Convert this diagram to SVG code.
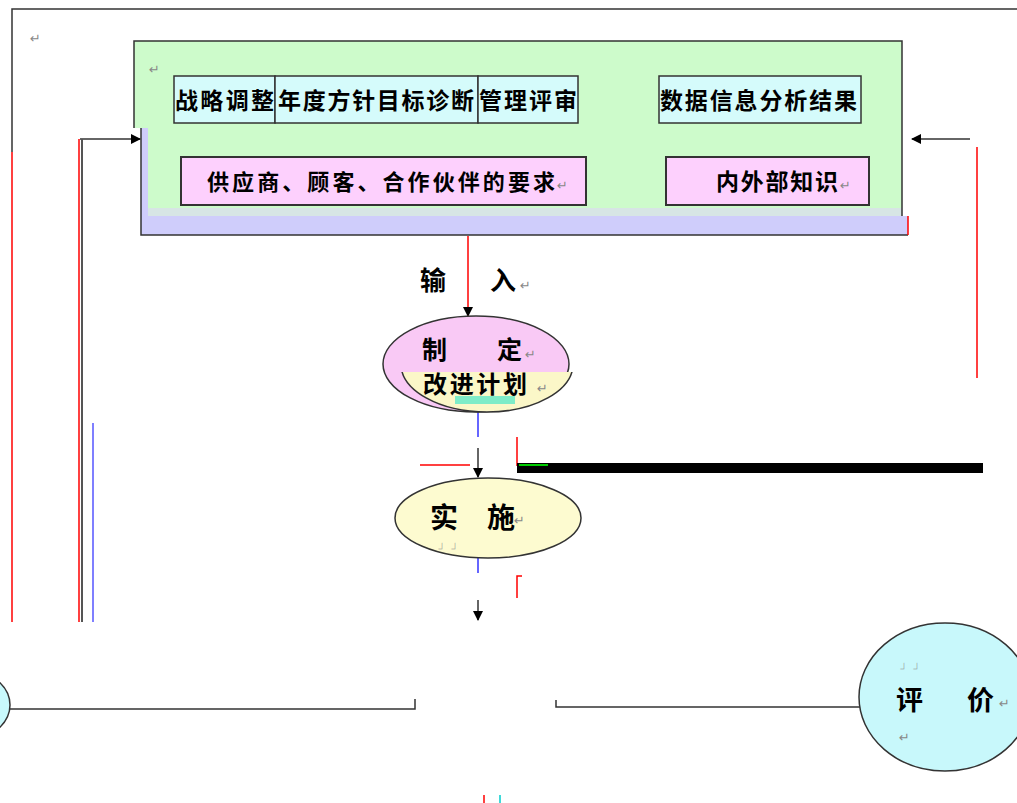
<svg xmlns="http://www.w3.org/2000/svg" width="1017" height="803" viewBox="0 0 1017 803">
<style>
.t{font-family:"Noto Sans CJK SC","Noto Sans CJK JP",sans-serif;font-weight:bold;fill:#000}
.m{font-family:"DejaVu Sans",sans-serif;fill:#888;font-size:13px}
.ln{stroke:#333;stroke-width:1.5;fill:none}
.red{stroke:#f00;stroke-width:1.5;fill:none}
.cell{fill:#d5fbfb;stroke:#333;stroke-width:1.5}
.pk{fill:#fdd0fd;stroke:#333;stroke-width:2}
</style>
<defs>
<marker id="ah" markerWidth="10" markerHeight="10" refX="9" refY="5" orient="auto" markerUnits="userSpaceOnUse"><path d="M0,0 L10,5 L0,10 Z" fill="#000"/></marker>
</defs>
<rect width="1017" height="803" fill="#fff"/>
<g id="frame">
<path d="M12,152 V9 H1017" class="ln"/>
<line x1="12" y1="152" x2="12" y2="622" class="red"/>
<text x="30" y="43" class="m">↵</text>
</g>
<g id="input-box">
<path d="M134,41 H902 V216 H148 V128 H134 Z" fill="#cdfbcb"/>
<path d="M141,128 H148 V216 H908 V235 H141 Z" fill="#cfcdfb"/>
<rect x="148" y="208" width="754" height="8" fill="#dcdcf0" opacity="0.7"/>
<path d="M134,128 V41 H902 V216" class="ln"/>
<path d="M141,128 V235 H908" class="ln"/>
<line x1="908" y1="216" x2="908" y2="235" class="red"/>
<text x="149" y="74" class="m">↵</text>
<g id="cell1"><rect x="174" y="76" width="101" height="47" class="cell"/><text x="175" y="109" class="t" font-size="23" textLength="99">战略调整</text></g>
<g id="cell2"><rect x="275" y="76" width="203" height="47" class="cell"/><text x="278" y="109" class="t" font-size="23" textLength="196">年度方针目标诊断</text></g>
<g id="cell3"><rect x="478" y="76" width="100" height="47" class="cell"/><text x="479" y="109" class="t" font-size="23" textLength="98">管理评审</text></g>
<g id="cell4"><rect x="659" y="76" width="202" height="47" class="cell"/><text x="660" y="109" class="t" font-size="23" textLength="197">数据信息分析结果</text></g>
<g id="req"><rect x="181" y="157" width="405" height="48" class="pk"/><text x="207" y="190" class="t" font-size="22" textLength="348">供应商、顾客、合作伙伴的要求</text><text x="557" y="190" class="m">↵</text></g>
<g id="know"><rect x="666" y="157" width="203" height="48" class="pk"/><text x="716" y="190" class="t" font-size="23" textLength="122">内外部知识</text><text x="840" y="190" class="m">↵</text></g>
</g>
<g id="connectors">
<line x1="468" y1="236" x2="468" y2="316" class="red" marker-end="url(#ah)"/>
<line x1="478" y1="412" x2="478" y2="437" stroke="#33f" stroke-width="1.5"/>
<line x1="478" y1="448" x2="478" y2="477" class="ln" marker-end="url(#ah)"/>
<line x1="478" y1="558" x2="478" y2="573" stroke="#33f" stroke-width="1.5"/>
<line x1="478" y1="600" x2="478" y2="620" class="ln" marker-end="url(#ah)"/>
<line x1="517" y1="437" x2="517" y2="466" class="red"/>
<path d="M517,598 V576 H522" class="red"/>
<rect x="517" y="463" width="466" height="10" fill="#000"/>
<line x1="420" y1="465" x2="470" y2="465" stroke="#f00" stroke-width="1.5"/>
<line x1="519" y1="465" x2="548" y2="465" stroke="#0c0" stroke-width="2"/>
<line x1="80" y1="139" x2="140" y2="139" class="ln" marker-end="url(#ah)"/>
<line x1="79" y1="139" x2="79" y2="622" class="red"/>
<line x1="82" y1="139" x2="82" y2="622" stroke="#555" stroke-width="2"/>
<line x1="93" y1="423" x2="93" y2="622" stroke="#55f" stroke-width="1.5"/>
<line x1="970" y1="139" x2="912" y2="139" class="ln" marker-end="url(#ah)"/>
<line x1="977" y1="147" x2="977" y2="378" class="red"/>
<path d="M10,709 H415 V699" class="ln"/>
<path d="M556,700 V707 H862" class="ln"/>
<line x1="484" y1="795" x2="484" y2="803" class="red"/>
<line x1="500" y1="795" x2="500" y2="803" stroke="#0cc" stroke-width="1.5"/>
</g>
<g id="input-label">
<text x="420" y="290" class="t" font-size="26">输</text>
<text x="490" y="290" class="t" font-size="26">入</text>
<text x="520" y="290" class="m">↵</text>
</g>
<g id="plan">
<clipPath id="lowclip"><rect x="395" y="372" width="200" height="50"/></clipPath>
<ellipse cx="476" cy="364" rx="93" ry="48" fill="#f9c9f5" stroke="#333" stroke-width="1.5"/>
<ellipse cx="487" cy="364" rx="86" ry="48" fill="#fbf7c8" stroke="#333" stroke-width="1.5" clip-path="url(#lowclip)"/>
<rect x="455" y="396" width="60" height="8" fill="#5fe8c8" opacity="0.8"/>
<text x="422" y="359" class="t" font-size="25">制</text>
<text x="497" y="359" class="t" font-size="25">定</text>
<text x="525" y="359" class="m">↵</text>
<text x="423" y="393" class="t" font-size="24" textLength="104">改进计划</text>
<text x="537" y="393" class="m">↵</text>
</g>
<g id="implement">
<ellipse cx="488" cy="518" rx="93" ry="40" fill="#fdfbd0" stroke="#333" stroke-width="1.5"/>
<text x="430" y="528" class="t" font-size="28">实</text>
<text x="487" y="528" class="t" font-size="28">施</text>
<text x="514" y="525" class="m">↵</text>
<text x="437" y="548" class="m" font-size="10">」」</text>
</g>
<g id="evaluate">
<ellipse cx="945" cy="697" rx="86" ry="74" fill="#c8f8fb" stroke="#333" stroke-width="1.5"/>
<text x="896" y="710" class="t" font-size="27">评</text>
<text x="967" y="710" class="t" font-size="27">价</text>
<text x="999" y="708" class="m">↵</text>
<text x="899" y="668" class="m" font-size="10">」」</text>
<text x="899" y="742" class="m">↵</text>
</g>
<g id="left-node">
<ellipse cx="-50" cy="705" rx="60" ry="40" fill="#c8f8fb" stroke="#333" stroke-width="1.5"/>
</g>
</svg>
